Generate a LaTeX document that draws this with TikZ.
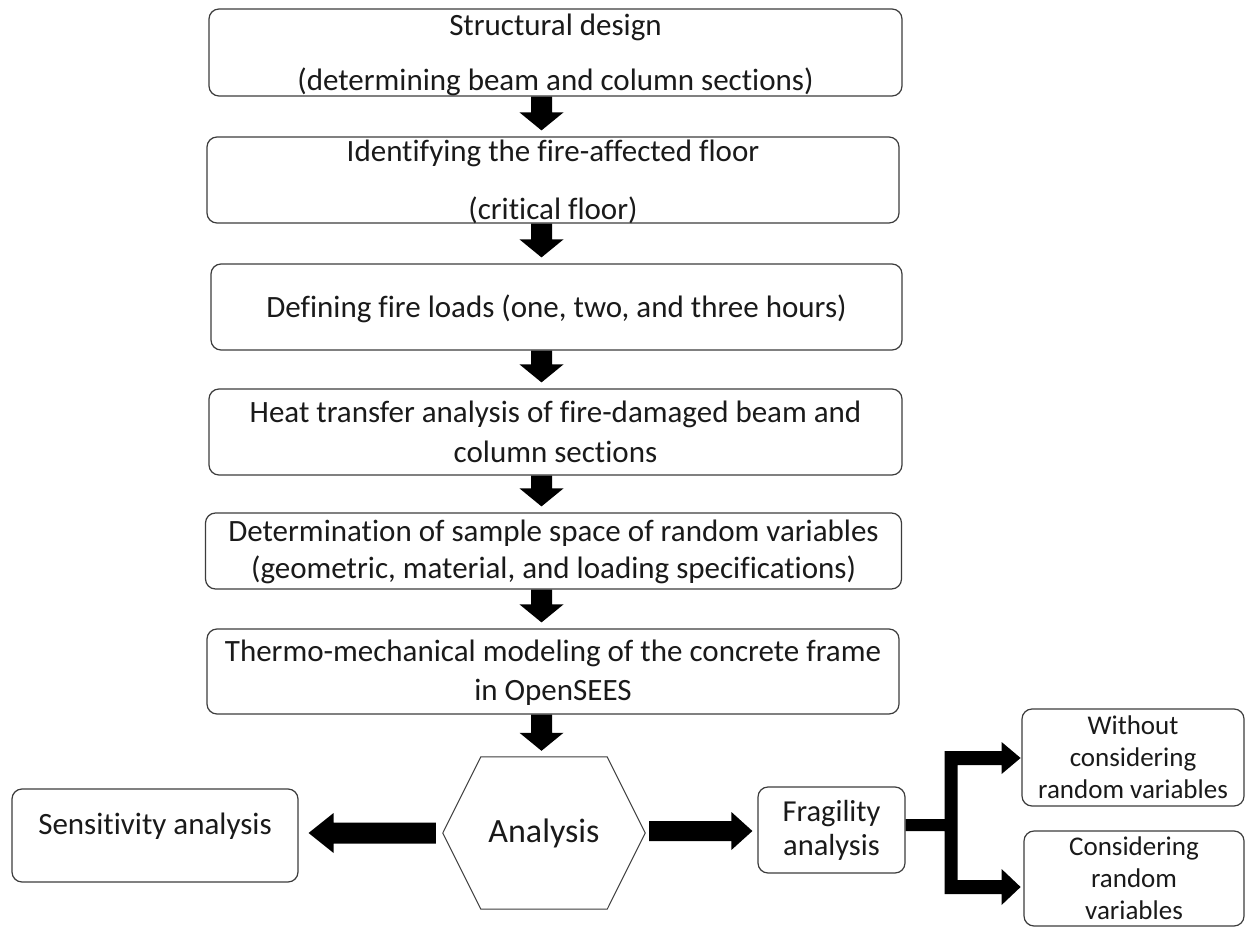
\documentclass[tikz,border=0pt]{standalone}
\usepackage{fontspec}
\setmainfont{Carlito}[Ligatures=CommonOff]
\usetikzlibrary{calc}
\definecolor{edge}{HTML}{3C3C3C}
\definecolor{ink}{HTML}{1A1A1A}
\newcommand{\fatdown}[2]{%
  \fill[black] let \p1=(#1), \p2=(#2) in
    (\x1-10.5pt,\y1) -- (\x1+10.5pt,\y1) -- (\x1+10.5pt,\y2+24pt) -- (\x1+22pt,\y2+24pt)
    -- (\x1,\y2+6pt) -- (\x1-22pt,\y2+24pt) -- (\x1-10.5pt,\y2+24pt) -- cycle;}
\begin{document}
\begin{tikzpicture}[x=1pt,y=-1pt,
  box/.style={draw=edge, line width=1.2pt, rounded corners=10pt, align=center,
    inner sep=0pt, text=ink, font=\fontsize{31}{37}\selectfont},
  smallbox/.style={box, font=\fontsize{27}{32}\selectfont}]
\useasboundingbox[fill=white] (0,0) rectangle (1247,928);
\coordinate (ac) at (541.5,0);

\node[box, minimum width=693pt, minimum height=87pt, text depth=-5pt] (b1) at (555.5,52.5)
  {Structural design\\[18pt](determining beam and column sections)};
\node[box, minimum width=692pt, minimum height=86pt, text depth=-5pt] (b2) at (553,180)
  {Identifying the fire-affected floor\\[21pt](critical floor)};
\node[box, minimum width=691pt, minimum height=86pt, text depth=2pt] (b3) at (556.5,307)
  {Defining fire loads (one, two, and three hours)};
\node[box, minimum width=693pt, minimum height=86pt] (b4) at (555.5,432)
  {Heat transfer analysis of fire-damaged beam and\\[3pt]column sections};
\node[box, minimum width=696pt, minimum height=76pt, text depth=4pt] (b5) at (553.5,551)
  {Determination of sample space of random variables\\[0pt](geometric, material, and loading specifications)};
\node[box, minimum width=692pt, minimum height=85pt, text depth=2pt] (b6) at (553,671.5)
  {Thermo-mechanical modeling of the concrete frame\\[2pt]in OpenSEES};

\node[inner sep=0pt, minimum width=202pt, minimum height=152pt, text=ink,
  font=\fontsize{34}{40}\selectfont] (hex) at (544,833) {Analysis};
\draw[edge, line width=1pt, line join=miter] (hex.west) -- ($(hex.north west)+(38,0)$)
  -- ($(hex.north east)+(-38,0)$) -- (hex.east) -- ($(hex.south east)+(-38,0)$)
  -- ($(hex.south west)+(38,0)$) -- cycle;

\node[box, minimum width=286pt, minimum height=93pt, text depth=23pt] (sens) at (155,835.5)
  {Sensitivity analysis};
\node[box, minimum width=147pt, minimum height=86pt, font=\fontsize{30.5}{36}\selectfont] (frag) at (831.5,830)
  {Fragility\\[-2pt]analysis};
\node[smallbox, minimum width=222pt, minimum height=97pt] (rt) at (1133,757.5)
  {Without\\considering\\random variables};
\node[smallbox, minimum width=220pt, minimum height=95pt] (rb) at (1134,878.5)
  {Considering\\random\\variables};

\fatdown{b1.south -| ac}{b2.north -| ac}
\fatdown{b2.south -| ac}{b3.north -| ac}
\fatdown{b3.south -| ac}{b4.north -| ac}
\fatdown{b4.south -| ac}{b5.north -| ac}
\fatdown{b5.south -| ac}{b6.north -| ac}
\fatdown{b6.south -| ac}{hex.north -| ac}

% left arrow: hexagon -> sensitivity
\fill[black] let \p1=(hex.west), \p2=(sens.east) in
  (\x1-7pt,\y1+10.5pt) -- (\x2+35pt,\y1+10.5pt) -- (\x2+35pt,\y1+20pt) -- (\x2+10pt,\y1)
  -- (\x2+35pt,\y1-20pt) -- (\x2+35pt,\y1-10.5pt) -- (\x1-7pt,\y1-10.5pt) -- cycle;
% right arrow: hexagon -> fragility
\fill[black] let \p1=(hex.east), \p2=(frag.west) in
  (\x1+4pt,\y2+9pt) -- (\x2-26pt,\y2+9pt) -- (\x2-26pt,\y2+18pt) -- (\x2-5pt,\y2-1pt)
  -- (\x2-26pt,\y2-20pt) -- (\x2-26pt,\y2-11pt) -- (\x1+4pt,\y2-11pt) -- cycle;
% branch: fragility -> two outcomes
\fill[black] (frag.east) ++(0,-11) -- ++(39,0) -- ++(0,-68) -- ++(57,0) -- ++(0,-9)
  -- ++(19,16) -- ++(-19,16) -- ++(0,-9) -- ++(-44,0) -- ++(0,115) -- ++(44,0)
  -- ++(0,-11) -- ++(19,18) -- ++(-19,18) -- ++(0,-11) -- ++(-57,0) -- ++(0,-63)
  -- ++(-39,0) -- cycle;
\end{tikzpicture}
\end{document}
